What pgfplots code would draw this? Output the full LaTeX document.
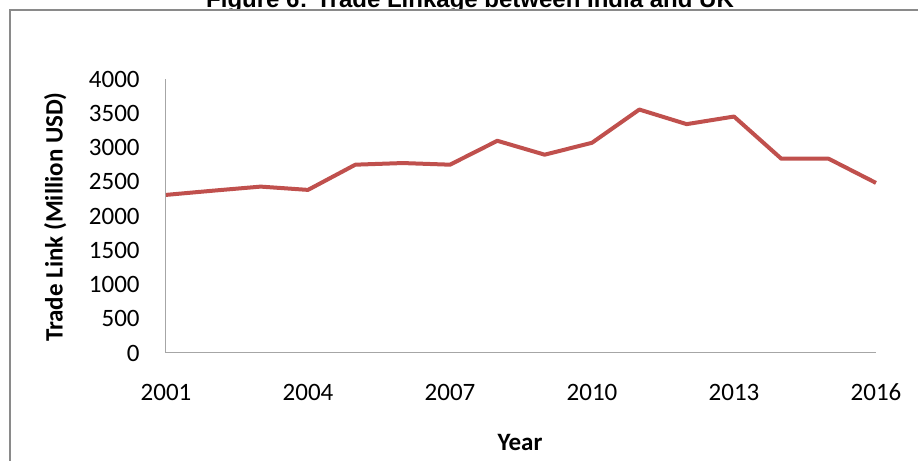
\documentclass[border=0pt]{standalone}
\usepackage{fontspec}
\setmainfont{Carlito}
\newfontfamily\titlefont{Liberation Sans}
\usepackage{pgfplots}
\pgfplotsset{compat=1.18}
\definecolor{linered}{HTML}{C0504D}
\definecolor{axisgray}{HTML}{A6A6A6}
\definecolor{framegray}{HTML}{8A8A8A}

\begin{document}
\begin{tikzpicture}
  % page = 918 x 461 px at 0.5pt per px
  \useasboundingbox (0,0) rectangle (459pt,230.5pt);
  % title, partly hidden behind the chart frame as in the source
  \node[anchor=base, inner sep=0pt, font=\titlefont\bfseries\fontsize{12}{14}\selectfont]
    at (235pt,226.75pt) {Figure 6: Trade Linkage between India and UK};
  \draw[framegray, line width=1pt, fill=white] (5pt,225.5pt) rectangle (470pt,-10pt);

  \begin{axis}[
      at={(83pt,54pt)}, anchor=origin,
      scale only axis,
      width=355pt, height=137pt,
      xmin=2001, xmax=2016,
      ymin=0, ymax=4000,
      axis x line*=bottom,
      axis y line*=left,
      axis line style={axisgray, line width=0.5pt, -},
      xtick={2001,2004,2007,2010,2013,2016},
      ytick={0,500,...,4000},
      major tick length=0pt,
      /pgf/number format/.cd, 1000 sep={}, assume math mode=true,
      /pgfplots/.cd,
      yticklabel style={anchor=east, inner sep=0pt, xshift=-13pt, font=\fontsize{12.5}{14}\selectfont},
      xticklabel style={anchor=base, inner sep=0pt, yshift=-24pt, font=\fontsize{12.5}{14}\selectfont},
      xlabel={Year},
      ylabel={Trade Link (Million USD)},
      every axis x label/.style={at={(rel axis cs:0.4986,-0.325)}, anchor=center, font=\bfseries\fontsize{12.5}{14}\selectfont},
      every axis y label/.style={at={(rel axis cs:-0.156,0.496)}, rotate=90, anchor=center, font=\bfseries\fontsize{12.5}{14}\selectfont},
      clip=false,
    ]
    \addplot[linered, line width=2pt, line join=round, mark=none]
      coordinates {
        (2001,2308)(2002,2370)(2003,2429)(2004,2381)(2005,2749)(2006,2773)
        (2007,2749)(2008,3098)(2009,2895)(2010,3069)(2011,3554)(2012,3341)
        (2013,3452)(2014,2836)(2015,2836)(2016,2483)
      };
  \end{axis}
\end{tikzpicture}
\end{document}
